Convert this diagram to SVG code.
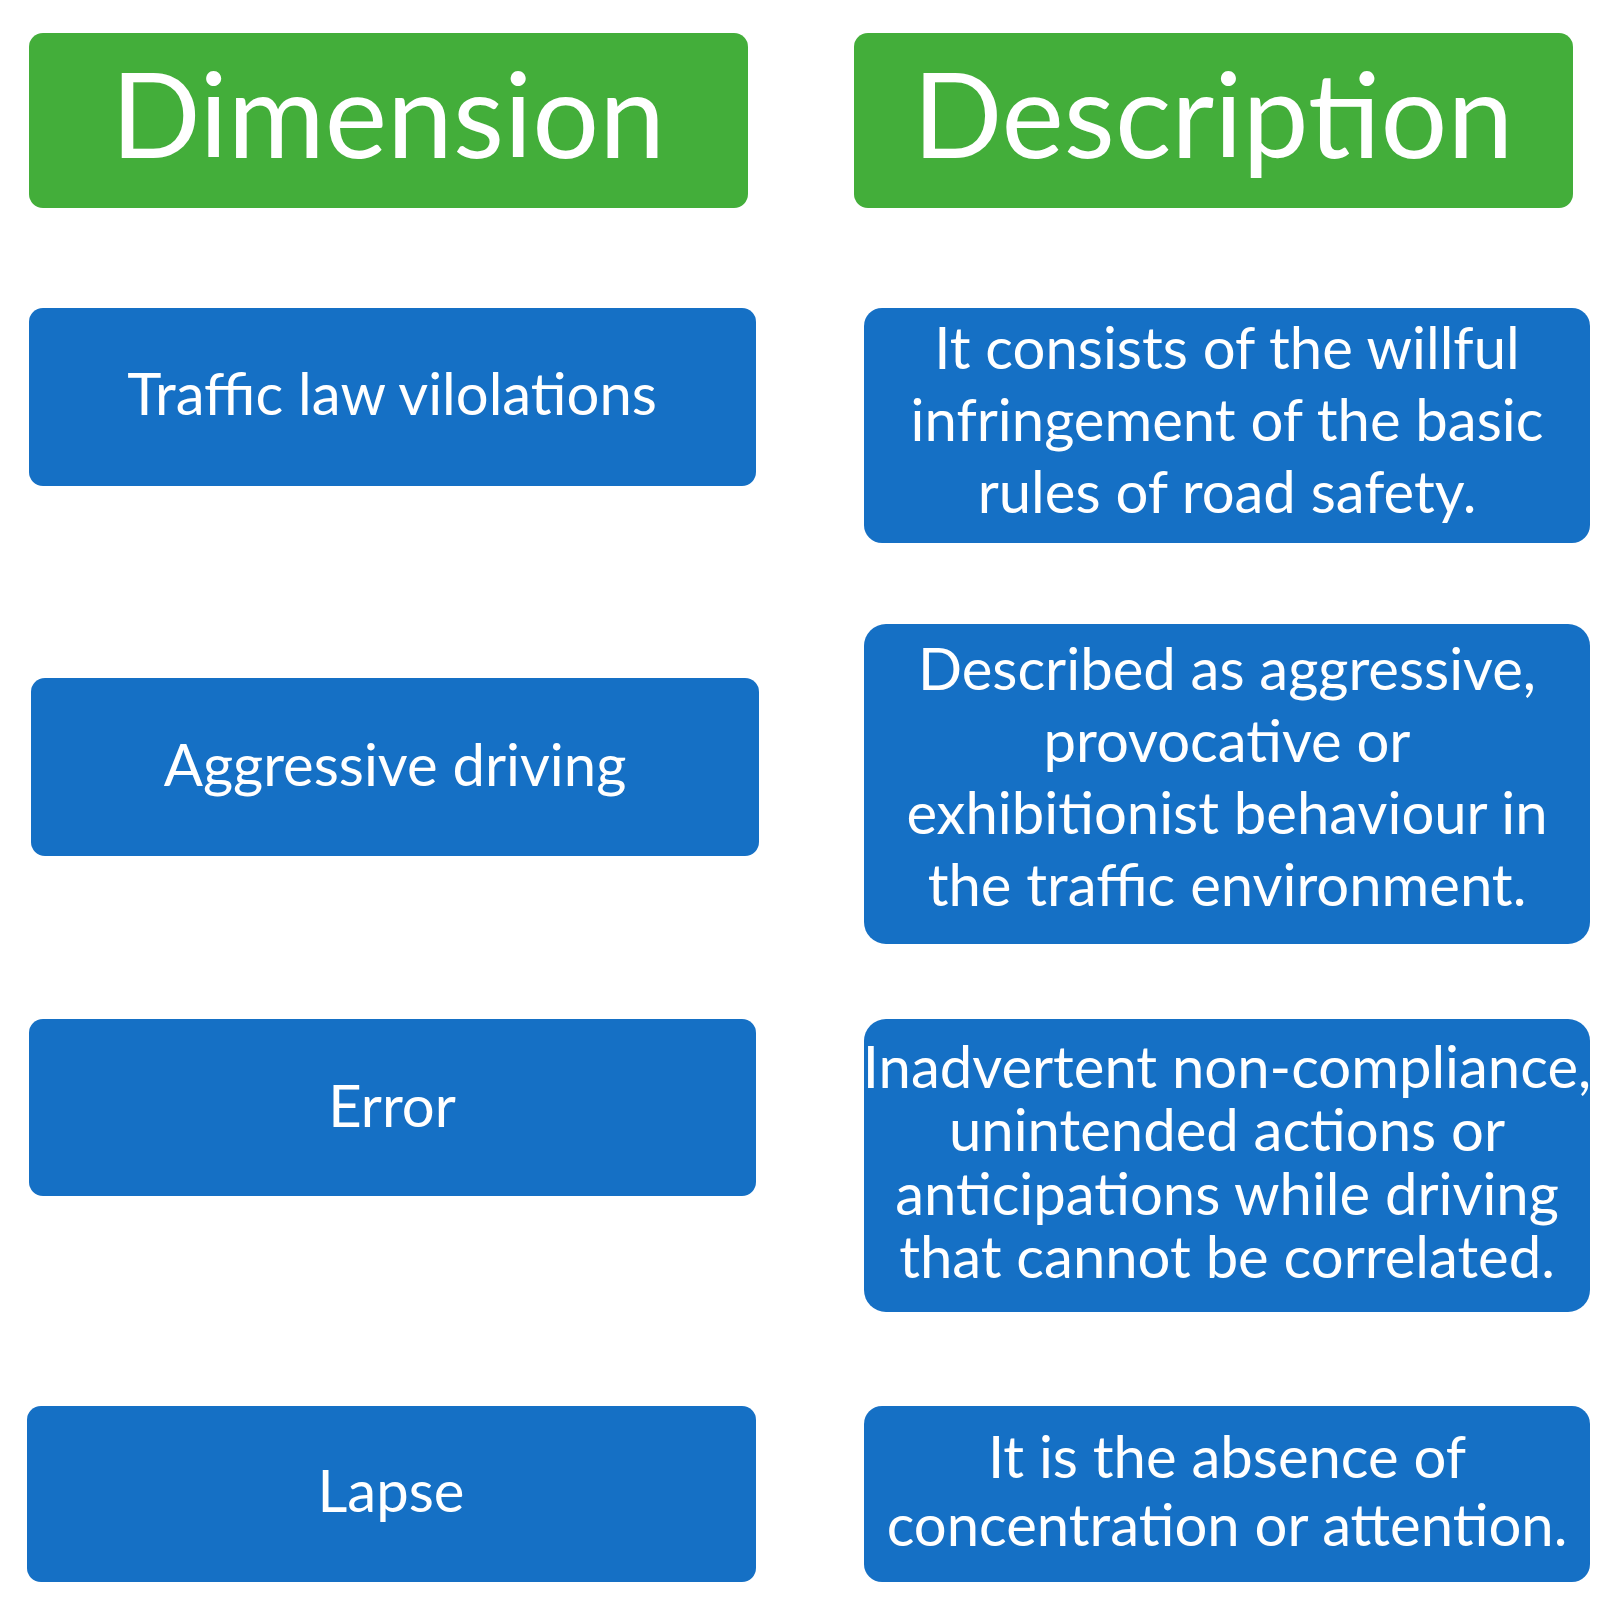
<svg xmlns="http://www.w3.org/2000/svg" width="1609" height="1609" viewBox="0 0 1609 1609">
<style>
.g{fill:#43AE3A}.b{fill:#1570C5}
text{font-family:Lato,"Open Sans",sans-serif;fill:#fff;text-anchor:middle}
.h{font-size:118px}.t{font-size:58px}
</style>
<rect width="1609" height="1609" fill="#fff"/>
<g id="hdr-dim"><rect class="g" x="29" y="33" width="719" height="175" rx="14"/><text class="h" x="388" y="158">Dimension</text></g>
<g id="hdr-desc"><rect class="g" x="854" y="33" width="719" height="175" rx="14"/><text class="h" x="1213" y="158">Description</text></g>
<g id="dim1"><rect class="b" x="29" y="308" width="727" height="178" rx="14"/><text class="t" x="392" y="415">Traffic law vilolations</text></g>
<g id="desc1"><rect class="b" x="864" y="308" width="726" height="235" rx="18"/><text class="t" x="1227"><tspan x="1227" y="369">It consists of the willful</tspan><tspan x="1227" y="441">infringement of the basic</tspan><tspan x="1227" y="513">rules of road safety.</tspan></text></g>
<g id="dim2"><rect class="b" x="31" y="678" width="728" height="178" rx="14"/><text class="t" x="395" y="786">Aggressive driving</text></g>
<g id="desc2"><rect class="b" x="864" y="624" width="726" height="320" rx="22"/><text class="t"><tspan x="1227" y="690">Described as aggressive,</tspan><tspan x="1227" y="762">provocative or</tspan><tspan x="1227" y="834">exhibitionist behaviour in</tspan><tspan x="1227" y="906">the traffic environment.</tspan></text></g>
<g id="dim3"><rect class="b" x="29" y="1019" width="727" height="177" rx="14"/><text class="t" x="392" y="1127">Error</text></g>
<g id="desc3"><rect class="b" x="864" y="1019" width="726" height="293" rx="22"/><text class="t"><tspan x="1227" y="1088">Inadvertent non-compliance,</tspan><tspan x="1227" y="1151">unintended actions or</tspan><tspan x="1227" y="1215">anticipations while driving</tspan><tspan x="1227" y="1278">that cannot be correlated.</tspan></text></g>
<g id="dim4"><rect class="b" x="27" y="1406" width="729" height="176" rx="14"/><text class="t" x="391" y="1512">Lapse</text></g>
<g id="desc4"><rect class="b" x="864" y="1406" width="726" height="176" rx="18"/><text class="t"><tspan x="1227" y="1478">It is the absence of</tspan><tspan x="1227" y="1546">concentration or attention.</tspan></text></g>
<g id="connectors"/>
</svg>
